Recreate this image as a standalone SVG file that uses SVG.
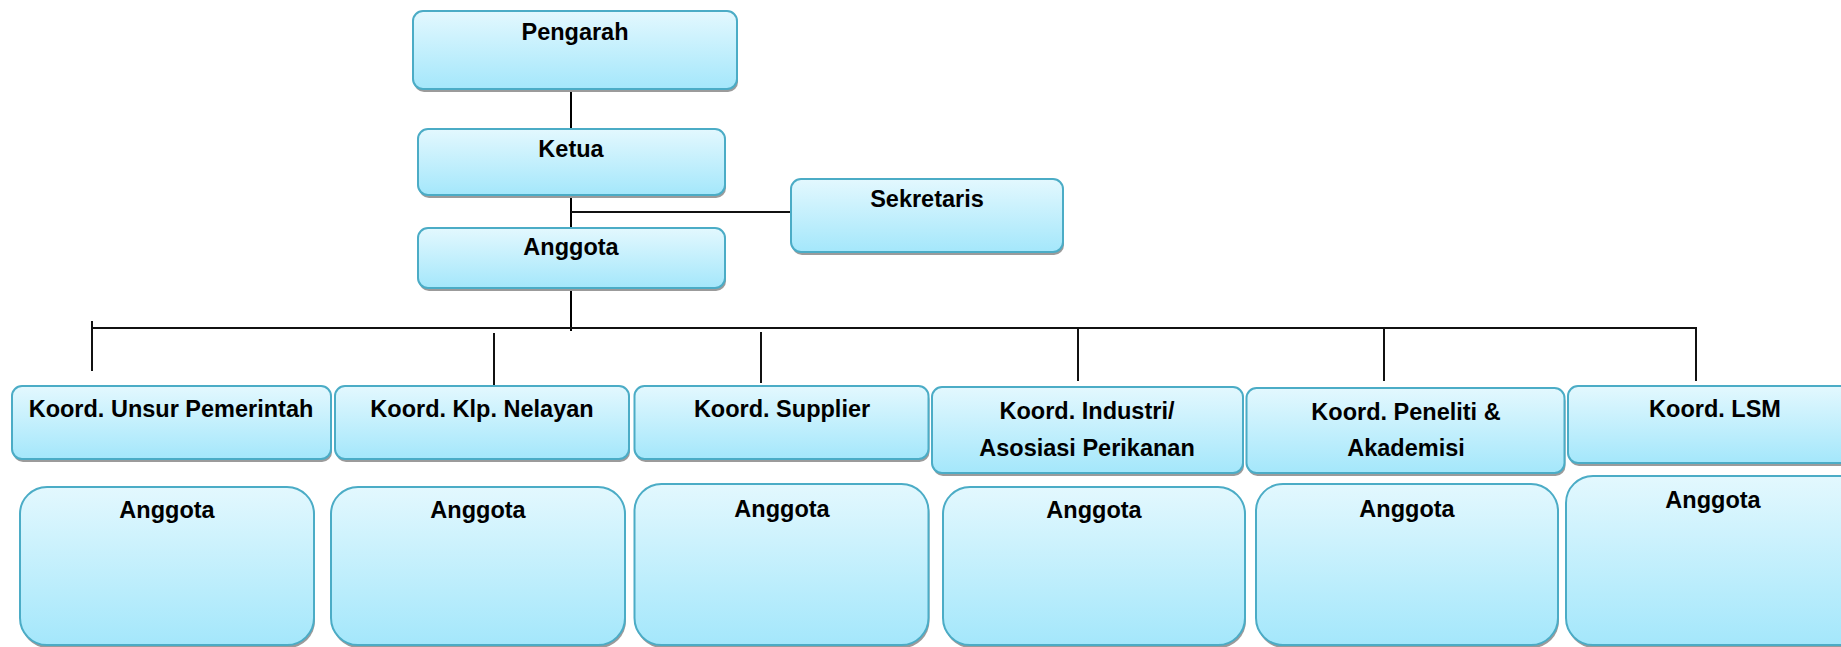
<svg xmlns="http://www.w3.org/2000/svg" width="1841" height="647" viewBox="0 0 1841 647">
<defs>
<linearGradient id="g" x1="0" y1="0" x2="0" y2="1">
<stop offset="0" stop-color="#e3f8fe"/>
<stop offset="1" stop-color="#a4e7fb"/>
</linearGradient>
<style>
.box{fill:url(#g);stroke:#4bacc6;stroke-width:2}
.sh{fill:#9b9b9b}
.t{font-family:"Liberation Sans",Arial,sans-serif;font-weight:bold;font-size:23.5px;fill:#000;text-anchor:middle}
.ln{stroke:#000;stroke-width:2;fill:none}
.ln2{stroke:#111;stroke-width:2;fill:none}
</style>
</defs>
<rect width="1841" height="647" fill="#fff"/>
<g id="connectors">
<line class="ln" x1="571" y1="89" x2="571" y2="129"/>
<line class="ln" x1="571" y1="195" x2="571" y2="228"/>
<line class="ln2" x1="571" y1="212" x2="791" y2="212"/>
<line class="ln" x1="571" y1="288" x2="571" y2="331"/>
<line class="ln2" x1="92" y1="328" x2="1696" y2="328"/>
<line class="ln2" x1="92" y1="321" x2="92" y2="371"/>
<line class="ln2" x1="494" y1="333" x2="494" y2="385"/>
<line class="ln2" x1="761" y1="332" x2="761" y2="383"/>
<line class="ln2" x1="1078" y1="329" x2="1078" y2="381"/>
<line class="ln2" x1="1384" y1="329" x2="1384" y2="381"/>
<line class="ln2" x1="1696" y1="327" x2="1696" y2="381"/>
</g>
<g id="pengarah">
<rect class="sh" x="414" y="14" width="324" height="78" rx="10"/>
<rect class="box" x="413" y="11" width="324" height="78" rx="10"/>
<text class="t" x="575" y="40">Pengarah</text>
</g>
<g id="ketua">
<rect class="sh" x="419" y="132" width="307" height="66" rx="10"/>
<rect class="box" x="418" y="129" width="307" height="66" rx="10"/>
<text class="t" x="571" y="157">Ketua</text>
</g>
<g id="sekretaris">
<rect class="sh" x="792" y="182" width="272" height="73" rx="10"/>
<rect class="box" x="791" y="179" width="272" height="73" rx="10"/>
<text class="t" x="927" y="207">Sekretaris</text>
</g>
<g id="anggota">
<rect class="sh" x="419" y="231" width="307" height="60" rx="10"/>
<rect class="box" x="418" y="228" width="307" height="60" rx="10"/>
<text class="t" x="571" y="255">Anggota</text>
</g>
<g id="koord-unsur">
<rect class="sh" x="13" y="389" width="319" height="73" rx="10"/>
<rect class="box" x="12" y="386" width="319" height="73" rx="10"/>
<text class="t" x="171" y="417">Koord. Unsur Pemerintah</text>
</g>
<g id="koord-klp">
<rect class="sh" x="336" y="389" width="294" height="73" rx="10"/>
<rect class="box" x="335" y="386" width="294" height="73" rx="10"/>
<text class="t" x="482" y="417">Koord. Klp. Nelayan</text>
</g>
<g id="koord-supplier">
<rect class="sh" x="635.5" y="389" width="294" height="73" rx="10"/>
<rect class="box" x="634.5" y="386" width="294" height="73" rx="10"/>
<text class="t" x="782" y="417">Koord. Supplier</text>
</g>
<g id="koord-industri">
<rect class="sh" x="933" y="390" width="311" height="86" rx="10"/>
<rect class="box" x="932" y="387" width="311" height="86" rx="10"/>
<text class="t" x="1087" y="418.5">Koord. Industri/</text>
<text class="t" x="1087" y="455.5">Asosiasi Perikanan</text>
</g>
<g id="koord-peneliti">
<rect class="sh" x="1247.5" y="391" width="318" height="85" rx="10"/>
<rect class="box" x="1246.5" y="388" width="318" height="85" rx="10"/>
<text class="t" x="1406" y="419.5">Koord. Peneliti &amp;</text>
<text class="t" x="1406" y="456">Akademisi</text>
</g>
<g id="koord-lsm">
<rect class="sh" x="1569" y="389" width="294" height="77" rx="10"/>
<rect class="box" x="1568" y="386" width="294" height="77" rx="10"/>
<text class="t" x="1715" y="417">Koord. LSM</text>
</g>
<g id="anggota-unsur">
<rect class="sh" x="21" y="490" width="294" height="158" rx="27"/>
<rect class="box" x="20" y="487" width="294" height="158" rx="27"/>
<text class="t" x="167" y="518">Anggota</text>
</g>
<g id="anggota-klp">
<rect class="sh" x="332" y="490" width="294" height="158" rx="27"/>
<rect class="box" x="331" y="487" width="294" height="158" rx="27"/>
<text class="t" x="478" y="518">Anggota</text>
</g>
<g id="anggota-supplier">
<rect class="sh" x="635.5" y="487" width="294" height="161" rx="27"/>
<rect class="box" x="634.5" y="484" width="294" height="161" rx="27"/>
<text class="t" x="782" y="516.5">Anggota</text>
</g>
<g id="anggota-industri">
<rect class="sh" x="944" y="490" width="302" height="158" rx="27"/>
<rect class="box" x="943" y="487" width="302" height="158" rx="27"/>
<text class="t" x="1094" y="518">Anggota</text>
</g>
<g id="anggota-peneliti">
<rect class="sh" x="1257" y="487" width="302" height="161" rx="27"/>
<rect class="box" x="1256" y="484" width="302" height="161" rx="27"/>
<text class="t" x="1407" y="516.5">Anggota</text>
</g>
<g id="anggota-lsm">
<rect class="sh" x="1567" y="479" width="300" height="169" rx="27"/>
<rect class="box" x="1566" y="476" width="300" height="169" rx="27"/>
<text class="t" x="1713" y="508">Anggota</text>
</g>
</svg>
